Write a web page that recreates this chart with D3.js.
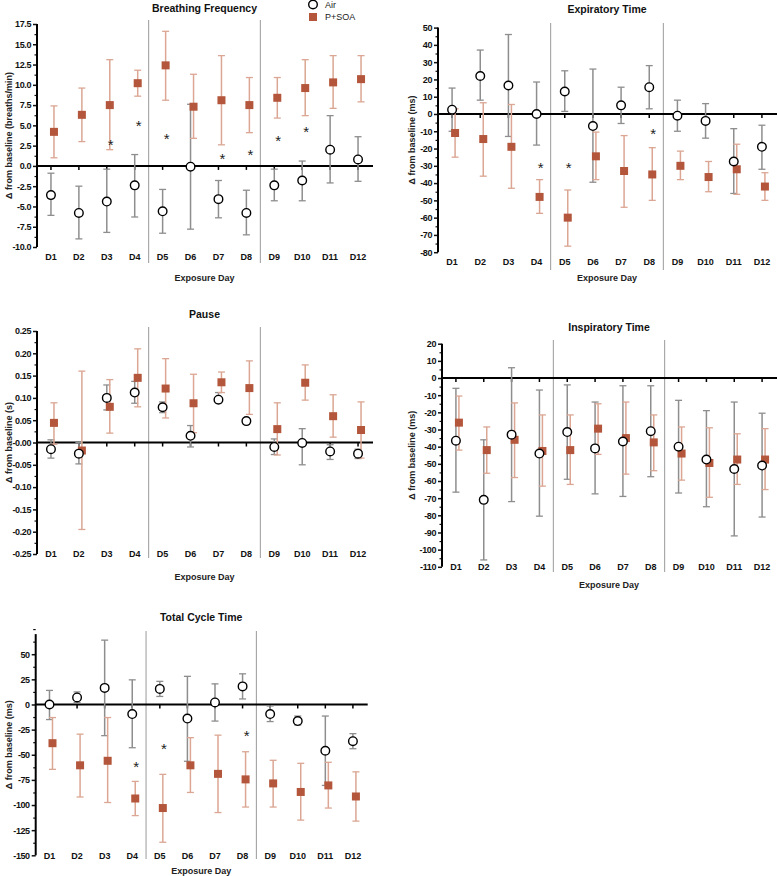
<!DOCTYPE html>
<html><head><meta charset="utf-8">
<script src="https://cdn.jsdelivr.net/npm/d3@7"></script>
<style>body{margin:0;background:#fff}svg{display:block}text{font-family:"Liberation Sans",Arial,sans-serif}</style>
</head><body><svg id="c" width="778" height="876"></svg>
<script>
const days = ["D1","D2","D3","D4","D5","D6","D7","D8","D9","D10","D11","D12"];
const seriesNames = ["Air","P+SOA"];

// Breathing Frequency
const bfAir   = [-3.6,-5.8,-4.4,-2.4,-5.6,-0.1,-4.1,-5.8,-2.4,-1.8,2.0,0.8];
const bfAirLo = [-6.1,-9.0,-8.2,-6.3,-8.3,-7.8,-6.4,-8.5,-4.3,-4.3,-2.1,-1.9];
const bfAirHi = [-0.9,-2.5,-0.4,1.4,-2.9,7.6,-1.8,-3.0,-0.4,0.6,6.2,3.6];
const bfSoa   = [4.2,6.3,7.5,10.2,12.4,7.3,8.1,7.5,8.4,9.6,10.3,10.7];
const bfSoaLo = [1.0,3.0,2.0,8.6,8.1,3.4,2.6,4.1,5.9,6.2,7.1,7.9];
const bfSoaHi = [7.4,9.6,13.1,11.8,16.6,11.3,13.6,10.9,10.9,13.1,13.6,13.6];
const bfStarDays = ["D3","D4","D5","D7","D8","D9","D10"];
const bfStarVals = [2.9,5.2,3.6,1.2,1.7,3.4,4.5];
const bfTicks = [-10,-7.5,-5,-2.5,0,2.5,5,7.5,10,12.5,15,17.5];

// Expiratory Time
const etAir   = [2.5,22,16.5,0,13,-7,5,15.5,-1,-4,-27.5,-19];
const etAirLo = [-10,8,-13,-18,1.5,-39.5,-5.5,3,-10,-14,-46,-32];
const etAirHi = [15,37,46,18.5,25,26,15.5,28,8,6,-8.5,-6.5];
const etSoa   = [-11,-14.5,-19,-48,-60,-24.5,-33,-35,-30,-36.5,-32,-42];
const etSoaLo = [-25,-36,-43,-57.5,-76.5,-38,-54,-50,-38,-45,-46.5,-50];
const etSoaHi = [3,6.5,5.5,-38,-44,-10.5,-12.5,-19.5,-21.5,-27.5,-17.5,-34];
const etStarDays = ["D4","D5","D8"];
const etStarVals = [-30,-30,-10.4];
const etTicks = [-80,-70,-60,-50,-40,-30,-20,-10,0,10,20,30,40,50];

// Pause
const paAir   = [-0.015,-0.025,0.100,0.112,0.079,0.015,0.096,0.048,-0.010,-0.001,-0.020,-0.025];
const paAirLo = [-0.035,-0.048,0.073,0.088,0.067,-0.010,0.089,0.045,-0.027,-0.050,-0.038,-0.036];
const paAirHi = [0.006,0.000,0.129,0.137,0.091,0.038,0.112,0.051,0.008,0.031,-0.005,-0.015];
const paSoa   = [0.044,-0.018,0.080,0.145,0.121,0.088,0.135,0.122,0.030,0.134,0.059,0.028];
const paSoaLo = [-0.004,-0.195,0.021,0.080,0.055,0.022,0.112,0.063,-0.028,0.095,0.012,-0.035];
const paSoaHi = [0.089,0.160,0.141,0.210,0.188,0.153,0.158,0.183,0.089,0.174,0.107,0.091];
const paTicks = [-0.25,-0.20,-0.15,-0.10,-0.05,0,0.05,0.10,0.15,0.20,0.25];

// Inspiratory Time
const itAir   = [-36.5,-71,-33,-44,-31.5,-41,-37,-31,-40,-47.5,-53,-51];
const itAirLo = [-66.5,-106,-72,-80.5,-59,-67.5,-69,-57.5,-67,-75,-92,-81];
const itAirHi = [-6,-36,6,-7,-4,-14,-4.5,-4.5,-13,-19,-14,-20.5];
const itSoa   = [-26,-42,-36,-42.5,-42,-29.5,-35,-37.5,-44,-49.5,-47.5,-47.5];
const itSoaLo = [-42,-55.5,-58,-63,-62,-44.5,-56,-54,-59.5,-69.5,-62,-65];
const itSoaHi = [-10.5,-28.5,-14.5,-21.5,-21.5,-15,-14,-21.5,-28.5,-29,-32.5,-29.5];
const itTicks = [-110,-100,-90,-80,-70,-60,-50,-40,-30,-20,-10,0,10,20];

// Total Cycle Time
const tcAir   = [0,7,16.5,-9.5,15.5,-14,2,18,-9.5,-16.5,-46,-36.5];
const tcAirLo = [-15,2,-31,-43,8,-56.5,-16.5,5.5,-17,-20.5,-80.5,-44];
const tcAirHi = [14,12.5,64,24.5,23,28,20.5,30.5,-1.5,-11.5,-11.5,-29];
const tcSoa   = [-38.5,-60.5,-56,-93.5,-103,-60.5,-69,-74.5,-78.5,-87,-80.5,-91.5];
const tcSoaLo = [-64.5,-92,-97.5,-110.5,-137,-87.5,-107.5,-102,-102,-115,-103,-116];
const tcSoaHi = [-13,-29.5,-13,-76.5,-69.5,-33,-30.5,-47,-55.5,-58.5,-57.5,-67];
const tcStarDays = ["D4","D5","D8"];
const tcStarVals = [-60,-42,-28.7];
const tcTicks = [-150,-125,-100,-75,-50,-25,0,25,50];

const loc = d3.formatLocale({decimal:".",thousands:",",grouping:[3],currency:["$",""],minus:"-"});
const f1 = loc.format(".1f"), f2 = loc.format(".2f"), f0 = loc.format("d");

const panels = [
  {title:"Breathing Frequency", unit:"(breaths/min)", air:[bfAir,bfAirLo,bfAirHi], soa:[bfSoa,bfSoaLo,bfSoaHi],
   stars:[bfStarDays,bfStarVals], ticks:bfTicks, minorStep:1.25, dom:[-10,17.5], fmt:f1,
   x0:37, x1:372, yT:24, yB:247, titleY:12, labY:260, xtY:281, s0:20, s1:263, ylx:9, legend:true},
  {title:"Expiratory Time", unit:"(ms)", air:[etAir,etAirLo,etAirHi], soa:[etSoa,etSoaLo,etSoaHi],
   stars:[etStarDays,etStarVals], ticks:etTicks, minorStep:5, dom:[-80,50], fmt:f0,
   x0:438, x1:776, yT:27.6, yB:252.2, titleY:13, labY:265, xtY:281, s0:23, s1:270, ylx:412},
  {title:"Pause", unit:"(s)", air:[paAir,paAirLo,paAirHi], soa:[paSoa,paSoaLo,paSoaHi],
   stars:[[],[]], ticks:paTicks, minorStep:0.025, dom:[-0.25,0.25], fmt:v=>Math.abs(v)<1e-9?"-0.00":f2(v),
   x0:37, x1:372, yT:331, yB:554, titleY:318, labY:557, xtY:580, s0:327, s1:558, ylx:9},
  {title:"Inspiratory Time", unit:"(ms)", air:[itAir,itAirLo,itAirHi], soa:[itSoa,itSoaLo,itSoaHi],
   stars:[[],[]], ticks:itTicks, minorStep:5, dom:[-110,20], fmt:f0,
   x0:442, x1:776, yT:343.7, yB:566.8, titleY:331, labY:570, xtY:588, s0:340, s1:572, ylx:412},
  {title:"Total Cycle Time", unit:"(ms)", air:[tcAir,tcAirLo,tcAirHi], soa:[tcSoa,tcSoaLo,tcSoaHi],
   stars:[tcStarDays,tcStarVals], ticks:tcTicks, minorStep:12.5, dom:[-150,70], fmt:f0,
   x0:35.7, x1:366.7, yT:634.1, yB:855.3, titleY:621, labY:859, xtY:874, s0:631, s1:859, ylx:9}
];

const svg = d3.select("#c");
const airBar = "#8e8e8e", soaBar = "#dba693", soaFill = "#b3563b";

panels.forEach(p => {
  const g = svg.append("g");
  const x = d3.scaleBand().domain(days).range([p.x0, p.x1]).padding(0);
  const y = d3.scaleLinear().domain(p.dom).range([p.yB, p.yT]);
  const cx = d => x(d) + x.bandwidth()/2;
  const bw = x.bandwidth();

  [4, 8].forEach(i => {
    g.append("line").attr("x1", p.x0 + i*bw).attr("x2", p.x0 + i*bw)
      .attr("y1", p.s0).attr("y2", p.s1).attr("stroke", "#9a9a9a").attr("stroke-width", 1);
  });

  g.append("text").attr("x", (p.x0 + p.x1)/2).attr("y", p.titleY).attr("text-anchor", "middle")
    .attr("font-size", 10.5).attr("font-weight", "bold").attr("fill", "#111").text(p.title);

  const minor = d3.range(Math.round((p.dom[1]-p.dom[0])/p.minorStep)+1).map(i => p.dom[0] + i*p.minorStep)
    .filter(v => !p.ticks.some(t => Math.abs(t - v) < 1e-9));
  const yMinor = g.append("g").attr("transform", `translate(${p.x0},0)`)
    .call(d3.axisLeft(y).tickValues(minor).tickSize(2.5).tickFormat(""));
  yMinor.select(".domain").remove();
  yMinor.selectAll("line").attr("stroke", "#111").attr("stroke-width", 1.2);
  const yAx = g.append("g").attr("transform", `translate(${p.x0},0)`)
    .call(d3.axisLeft(y).tickValues(p.ticks).tickSize(4).tickPadding(2).tickFormat(p.fmt));
  yAx.select(".domain").remove();
  yAx.selectAll("line").attr("stroke", "#111").attr("stroke-width", 1.5);
  yAx.selectAll("text").attr("font-size", 9).attr("font-weight", "bold").attr("fill", "#111")
    .attr("letter-spacing", -0.4).attr("font-family", '"Liberation Sans",Arial,sans-serif');
  g.append("line").attr("x1", p.x0).attr("x2", p.x0).attr("y1", y(p.dom[1])).attr("y2", y(p.dom[0]))
    .attr("stroke", "#000").attr("stroke-width", 2);

  const y0 = y(0);
  g.append("line").attr("x1", p.x0).attr("x2", p.x1 + 1).attr("y1", y0).attr("y2", y0)
    .attr("stroke", "#000").attr("stroke-width", 2);
  const xAx = g.append("g").attr("transform", `translate(0,${y0})`)
    .call(d3.axisBottom(x).tickSize(4).tickFormat(""));
  xAx.select(".domain").remove();
  xAx.selectAll("line").attr("stroke", "#000").attr("stroke-width", 1.5);

  g.selectAll(".dl").data(days).enter().append("text")
    .attr("x", d => cx(d)).attr("y", p.labY).attr("text-anchor", "middle")
    .attr("font-size", 9).attr("font-weight", "bold").attr("fill", "#111").text(d => d);
  g.append("text").attr("x", (p.x0 + p.x1)/2).attr("y", p.xtY).attr("text-anchor", "middle")
    .attr("font-size", 9).attr("font-weight", "bold").attr("fill", "#222").text("Exposure Day");

  g.append("text").attr("transform", `translate(${p.ylx},${(p.yT + p.yB)/2}) rotate(-90)`)
    .attr("text-anchor", "middle").attr("dy", "0.35em").attr("font-size", 9).attr("font-weight", "bold")
    .attr("fill", "#222").text("\u0394 from baseline  " + p.unit);

  function bars(series, dx, col) {
    const [m, lo, hi] = series;
    days.forEach((d, i) => {
      const xx = cx(d) + dx;
      g.append("line").attr("x1", xx).attr("x2", xx).attr("y1", y(lo[i])).attr("y2", y(hi[i]))
        .attr("stroke", col).attr("stroke-width", 1.5);
      [lo[i], hi[i]].forEach(v => g.append("line").attr("x1", xx - 3.5).attr("x2", xx + 3.5)
        .attr("y1", y(v)).attr("y2", y(v)).attr("stroke", col).attr("stroke-width", 1.3));
    });
  }
  const dxAir = 0, dxSoa = 3;
  bars(p.air, dxAir, airBar);
  bars(p.soa, dxSoa, soaBar);
  g.selectAll(".sq").data(days).enter().append("rect")
    .attr("x", d => cx(d) + dxSoa - 4).attr("y", (d, i) => y(p.soa[0][i]) - 4)
    .attr("width", 8).attr("height", 8).attr("fill", soaFill);
  g.selectAll(".ci").data(days).enter().append("circle")
    .attr("cx", d => cx(d) + dxAir).attr("cy", (d, i) => y(p.air[0][i])).attr("r", 4.3)
    .attr("fill", "#fff").attr("stroke", "#000").attr("stroke-width", 1.4);

  const [sd, sv] = p.stars;
  sd.forEach((d, i) => {
    g.append("text").attr("x", cx(d) + 4).attr("y", y(sv[i]) + 7.5).attr("text-anchor", "middle")
      .attr("font-size", 15).attr("fill", "#222").text("*");
  });

  if (p.legend) {
    g.append("circle").attr("cx", 313).attr("cy", 4.5).attr("r", 4.3).attr("fill", "#fff")
      .attr("stroke", "#000").attr("stroke-width", 1.4);
    g.append("rect").attr("x", 309).attr("y", 13).attr("width", 8).attr("height", 8).attr("fill", soaFill);
    seriesNames.forEach((n, i) => g.append("text").attr("x", 325).attr("y", 4.5 + i*12.5).attr("dy", "0.35em")
      .attr("font-size", 9).attr("fill", "#222").text(n));
  }
});
</script></body></html>
